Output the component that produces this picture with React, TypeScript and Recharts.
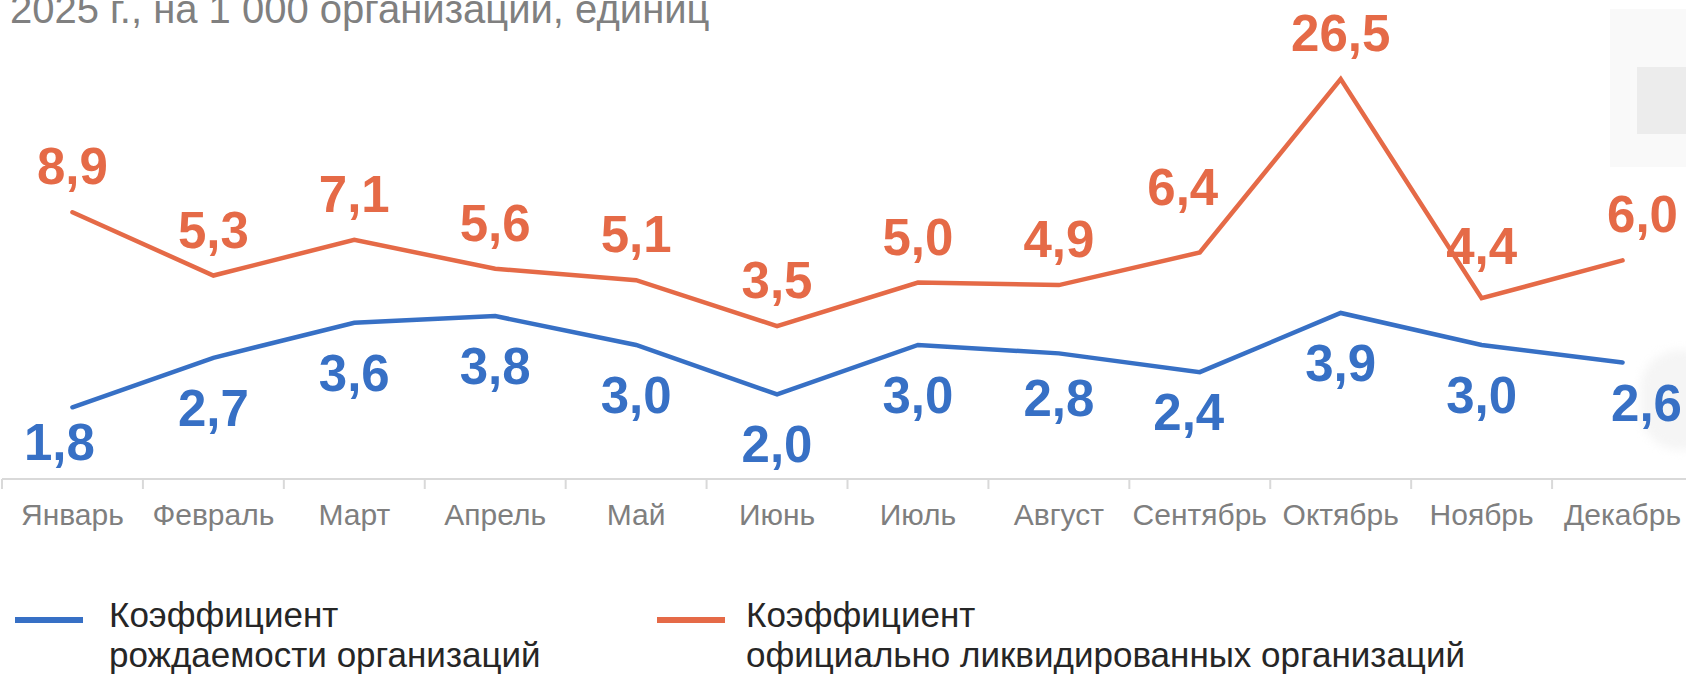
import React from 'react';
import { LineChart, Line, XAxis, YAxis, LabelList } from 'recharts';

const months = ['Январь', 'Февраль', 'Март', 'Апрель', 'Май', 'Июнь', 'Июль', 'Август', 'Сентябрь', 'Октябрь', 'Ноябрь', 'Декабрь'];
const birthRate = [1.8, 2.7, 3.6, 3.8, 3.0, 2.0, 3.0, 2.8, 2.4, 3.9, 3.0, 2.6];
const liquidationRate = [8.9, 5.3, 7.1, 5.6, 5.1, 3.5, 5.0, 4.9, 6.4, 26.5, 4.4, 6.0];
const birthLegend = ['Коэффициент', 'рождаемости организаций'];
const liquidationLegend = ['Коэффициент', 'официально ликвидированных организаций'];
const titleText = '2025 г., на 1 000 организаций, единиц';

const data = months.map((m, i) => ({ month: m, birth: birthRate[i], liq: liquidationRate[i] }));

const BLUE = '#3770C5';
const ORANGE = '#E56A47';
const FONT = '"Liberation Sans", Arial, sans-serif';

const CHART_W = 1694;
const CHART_H = 677;
const MARGIN = { top: 64, right: 1, bottom: 138, left: 2 };
const BAND = (CHART_W - MARGIN.left - MARGIN.right) / months.length;

// manual label nudges (style), as in the original layout
const topNudge: Record<number, [number, number]> = { 8: [-17, -20], 10: [0, -6], 11: [20, 0] };
const bottomNudge: Record<number, [number, number]> = { 0: [-13, -15], 7: [0, -5], 8: [-11, -10], 11: [24, -9] };

const fmt = (v: number) => v.toFixed(1).replace('.', ',');

const MonthTick = (props: any) => {
  const { x, y, payload } = props;
  const bx = x - BAND / 2;
  return (
    <g>
      <line x1={bx} x2={bx} y1={y} y2={y + 10} stroke="#d9d9d9" strokeWidth={2} />
      <text x={x} y={y + 46} textAnchor="middle" fontSize={30} fill="#7f7f7f" fontFamily={FONT}>
        {payload.value}
      </text>
    </g>
  );
};

const TopLabel = (props: any) => {
  const { x, y, value, index } = props;
  const [dx, dy] = topNudge[index] || [0, 0];
  return (
    <text x={x + dx} y={y - 28 + dy} textAnchor="middle" fontSize={51} fontWeight="bold" fill={ORANGE} fontFamily={FONT}>
      {fmt(value)}
    </text>
  );
};

const BottomLabel = (props: any) => {
  const { x, y, value, index } = props;
  const [dx, dy] = bottomNudge[index] || [0, 0];
  return (
    <text x={x + dx} y={y + 68 + dy} textAnchor="middle" fontSize={51} fontWeight="bold" fill={BLUE} fontFamily={FONT}>
      {fmt(value)}
    </text>
  );
};

const LegendItem = ({ color, lines, lineLeft, textLeft }: { color: string; lines: string[]; lineLeft: number; textLeft: number }) => (
  <>
    <div style={{ position: 'absolute', left: lineLeft, top: 617, width: 68, height: 6, background: color }} />
    <div
      style={{
        position: 'absolute',
        left: textLeft,
        top: 594.6,
        fontFamily: FONT,
        fontSize: 35,
        lineHeight: '40px',
        color: '#262626',
        whiteSpace: 'nowrap',
      }}
    >
      {lines.map((l, i) => (
        <div key={i}>{l}</div>
      ))}
    </div>
  </>
);

export default function App() {
  return (
    <div style={{ position: 'absolute', left: 0, top: 0, width: 1686, height: 677, overflow: 'hidden', background: '#fff' }}>
      {/* faint background artifacts */}
      <div style={{ position: 'absolute', left: 1610, top: 9, width: 80, height: 158, background: '#f9f9f9' }} />
      <div style={{ position: 'absolute', left: 1637, top: 67, width: 60, height: 67, background: '#ececec' }} />
      <div style={{ position: 'absolute', left: 1640, top: 350, width: 80, height: 100, borderRadius: 40, background: '#f5f5f5', filter: 'blur(5px)' }} />

      <div
        style={{
          position: 'absolute',
          left: 10,
          top: -10.9,
          fontFamily: FONT,
          fontSize: 40,
          lineHeight: '40px',
          color: '#808080',
          whiteSpace: 'nowrap',
        }}
      >
        {titleText}
      </div>

      <div style={{ position: 'absolute', left: 0, top: 0 }}>
        <LineChart width={CHART_W} height={CHART_H} data={data} margin={MARGIN}>
          <XAxis
            dataKey="month"
            scale="band"
            interval={0}
            height={60}
            tickSize={0}
            tickMargin={0}
            tickLine={false}
            axisLine={{ stroke: '#d9d9d9', strokeWidth: 2 }}
            tick={<MonthTick />}
          />
          <YAxis hide scale="log" domain={[1, 30]} allowDataOverflow type="number" />
          <Line
            dataKey="liq"
            stroke={ORANGE}
            strokeWidth={4.5}
            strokeLinecap="round"
            dot={false}
            activeDot={false}
            isAnimationActive={false}
          >
            <LabelList dataKey="liq" content={<TopLabel />} />
          </Line>
          <Line
            dataKey="birth"
            stroke={BLUE}
            strokeWidth={4.5}
            strokeLinecap="round"
            dot={false}
            activeDot={false}
            isAnimationActive={false}
          >
            <LabelList dataKey="birth" content={<BottomLabel />} />
          </Line>
        </LineChart>
      </div>

      <LegendItem color={BLUE} lines={birthLegend} lineLeft={15} textLeft={109} />
      <LegendItem color={ORANGE} lines={liquidationLegend} lineLeft={657} textLeft={746} />
    </div>
  );
}
